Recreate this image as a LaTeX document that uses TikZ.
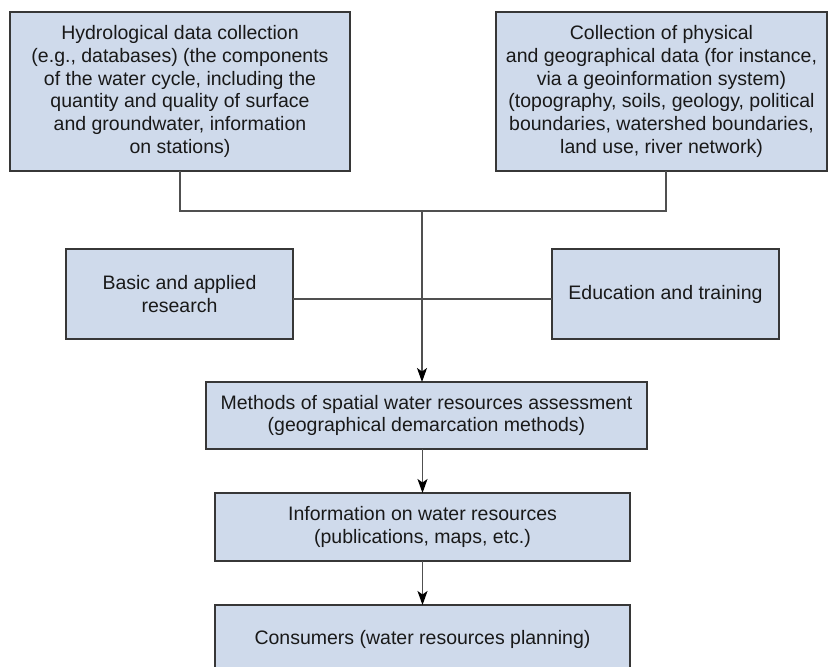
\documentclass[tikz,border=0pt]{standalone}
\usepackage{fontspec}
\setmainfont{Liberation Sans}
\usetikzlibrary{arrows.meta}
\definecolor{boxfill}{RGB}{207,218,235}
\definecolor{boxline}{RGB}{55,55,55}
\definecolor{wire}{RGB}{80,80,80}
\definecolor{txt}{RGB}{25,25,25}
\begin{document}
\begin{tikzpicture}[x=1pt,y=-1pt,
  box/.style={draw=boxline, line width=1.2pt, fill=boxfill, rectangle,
    inner sep=0pt, outer sep=0pt, align=center, text=txt,
    font=\fontsize{19.5}{22.7}\selectfont},
  wireline/.style={draw=wire, line width=1.1pt},
  flow/.style={wireline, -{Stealth[length=14pt,width=10pt,inset=3.5pt,color=black]}}]
\useasboundingbox (0,0) rectangle (828,667);

% source boxes
\node[box, minimum width=340pt, minimum height=159pt] (hyd) at (180,91.5)
  {Hydrological data collection\\(e.g., databases) (the components\\of the water cycle, including the\\quantity and quality of surface\\and groundwater, information\\on stations)};
\node[box, minimum width=331pt, minimum height=159pt] (geo) at (661.5,91.5)
  {Collection of physical\\and geographical data (for instance,\\via a geoinformation system)\\(topography, soils, geology, political\\boundaries, watershed boundaries,\\land use, river network)};

% side boxes
\node[box, minimum width=227pt, minimum height=90pt] (basic) at (179.5,294)
  {Basic and applied\\research};
\node[box, minimum width=227pt, minimum height=90pt] (edu) at (665.5,294)
  {Education and training};

% main chain
\node[box, minimum width=441pt, minimum height=67pt] (meth) at (426.5,415.5)
  {Methods of spatial water resources assessment\\(geographical demarcation methods)};
\node[box, minimum width=415pt, minimum height=68pt] (info) at (422.5,527)
  {Information on water resources\\(publications, maps, etc.)};
\node[box, minimum width=415pt, minimum height=68pt] (cons) at (422.5,639)
  {Consumers (water resources planning)};

% junctions
\coordinate (j) at (422,211);
\coordinate (jl) at (180,211);
\coordinate (jr) at (666,211);
\coordinate (tgt) at (422,382);

% connectors
\draw[wireline] (hyd.south) -- (jl) -- (jr) -- (jr |- geo.south);
\draw[flow] (j) -- (tgt);
\draw[wireline] ([yshift=-5pt]basic.east) -- ([yshift=-5pt]edu.west);
\draw[flow] (meth.south -| info.north) -- (info.north);
\draw[flow] (info.south) -- (cons.north);
\end{tikzpicture}
\end{document}
